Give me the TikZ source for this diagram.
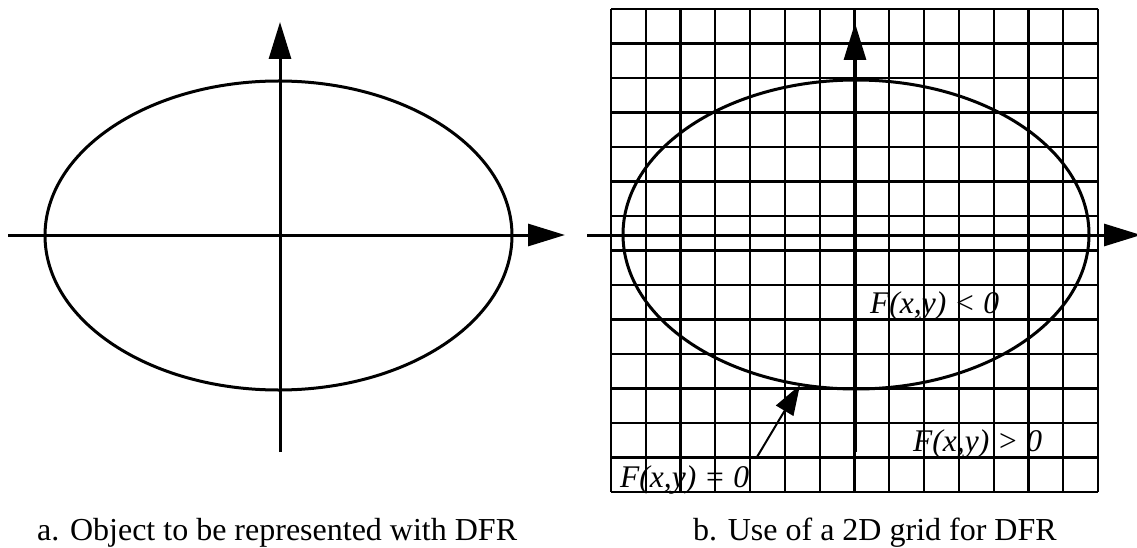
\documentclass[tikz,border=0pt]{standalone}
\usepackage{fontspec}
\setmainfont{Liberation Serif}
\usetikzlibrary{arrows.meta}
\begin{document}
\begin{tikzpicture}[x=1pt,y=-1pt,
  axis/.style={line width=3pt, -{Triangle[length=37pt,width=22pt]}},
  pointer/.style={line width=2pt, -{Triangle[length=30pt,width=20pt]}},
  curve/.style={line width=3pt},
  gridline/.style={line width=2.2pt},
  lbl/.style={font=\fontsize{31.5}{34}\selectfont\itshape, inner sep=0pt, anchor=base west},
  captext/.style={font=\fontsize{32}{36}\selectfont, inner sep=0pt, anchor=base west}]
\useasboundingbox (0,0) rectangle (1137,548);
\fill[white] (0,0) rectangle (1137,548);
% ---------- left figure ----------
\draw[curve] (278.5,235.5) ellipse [x radius=233.5, y radius=154.5];
\coordinate (aL) at (8,235);
\coordinate (aR) at (565,235);
\coordinate (aB) at (280,452);
\coordinate (aT) at (280,22);
\draw[axis] (aL) -- (aR);
\draw[axis] (aB) -- (aT);
\node[captext] (capa) at (37,540) {a. Object to be represented with DFR};
% ---------- right figure ----------
\node[lbl] (lt) at (870,313) {F(x,y) < 0};
\node[lbl] (gt) at (913,451) {F(x,y) > 0};
\node[lbl] (eq) at (620,487) {F(x,y) = 0};
\foreach \i in {0,...,14} {
  \draw[gridline] ({611+\i*34.786},9) -- ({611+\i*34.786},492);
  \draw[gridline] (611,{9+\i*34.5}) -- (1098,{9+\i*34.5});
}
\draw[curve] (856,234.5) ellipse [x radius=233, y radius=154.5];
\coordinate (bL) at (587,235);
\coordinate (bR) at (1141,235);
\coordinate (bB) at (855,452);
\coordinate (bT) at (855,23);
\draw[axis] (bL) -- (bR);
\draw[axis] (bB) -- (bT);
\coordinate (tail) at (757,457);
\coordinate (onE) at (800,385);
\draw[pointer] (tail) -- (onE);
\node[captext] (capb) at (693,540) {b. Use of a 2D grid for DFR};
\end{tikzpicture}
\end{document}
